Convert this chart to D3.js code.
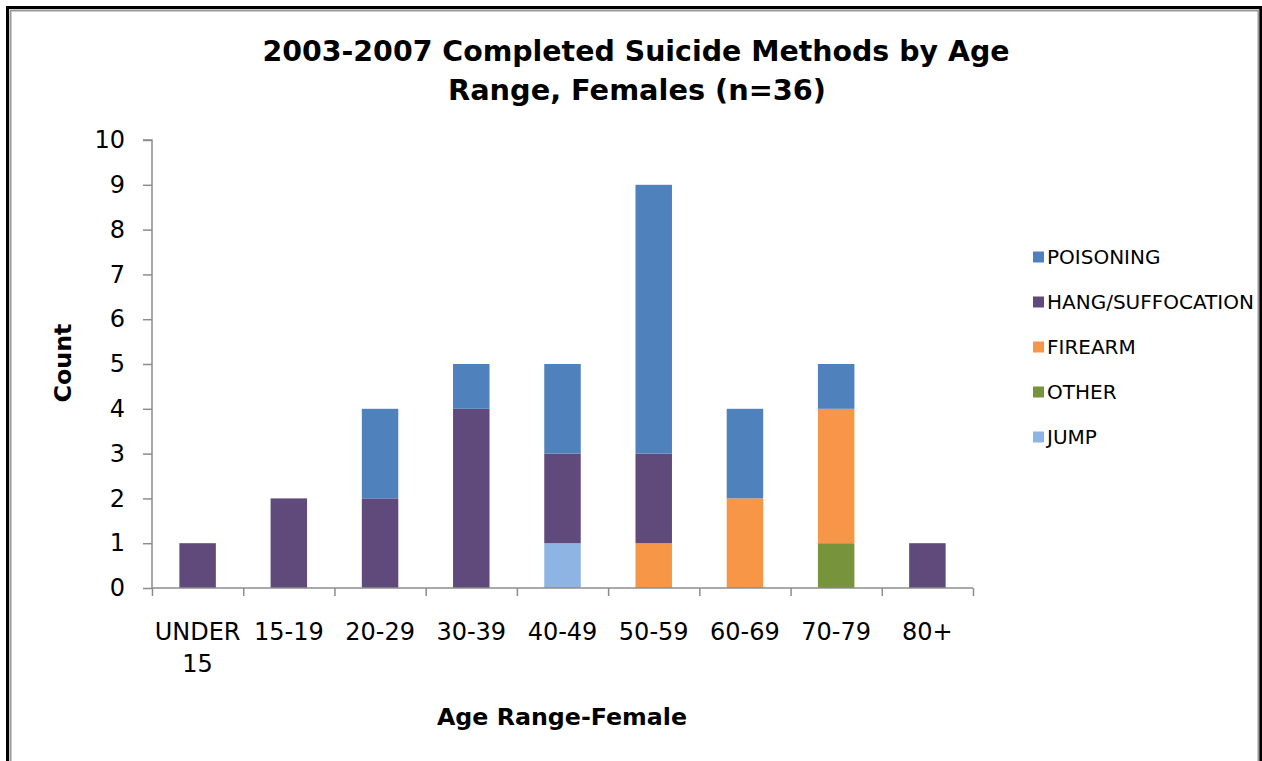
<!DOCTYPE html>
<html>
<head>
<meta charset="utf-8">
<script src="https://cdn.jsdelivr.net/npm/d3@7"></script>
<style>
  body { margin: 0; background: #fff; }
  text { font-family: "DejaVu Sans", Verdana, sans-serif; fill: #000; }
</style>
</head>
<body>
<div id="chart"></div>
<script>
// age ranges and counts per method
const categories = ["UNDER 15", "15-19", "20-29", "30-39", "40-49", "50-59", "60-69", "70-79", "80+"]
const poisoning = [0, 0, 2, 1, 2, 6, 2, 1, 0]
const hang = [1, 2, 2, 4, 2, 2, 0, 0, 1]
const firearm = [0, 0, 0, 0, 0, 1, 2, 3, 0]
const other = [0, 0, 0, 0, 0, 0, 0, 1, 0]
const jump = [0, 0, 0, 0, 1, 0, 0, 0, 0]
const yTicks = [0, 1, 2, 3, 4, 5, 6, 7, 8, 9, 10]

// legend order (top to bottom)
const series = [
    { key: "POISONING", values: poisoning, color: "#4F81BD" },
    { key: "HANG/SUFFOCATION", values: hang, color: "#604A7B" },
    { key: "FIREARM", values: firearm, color: "#F79646" },
    { key: "OTHER", values: other, color: "#77933C" },
    { key: "JUMP", values: jump, color: "#8EB4E3" }
]

const W = 1262, H = 761
const margin = { top: 140, left: 152, right: 289, bottom: 173 }
const width = W - margin.left - margin.right
const height = H - margin.top - margin.bottom

const svg = d3.select("#chart").append("svg")
    .attr("width", W)
    .attr("height", H)

// frame
svg.append("rect")
    .attr("x", 7.5).attr("y", 7.5)
    .attr("width", 1253).attr("height", 800)
    .attr("fill", "none").attr("stroke", "#000").attr("stroke-width", 3)
svg.append("rect")
    .attr("x", 10.5).attr("y", 10.5)
    .attr("width", 1248).attr("height", 800)
    .attr("fill", "none").attr("stroke", "#9a9a9a").attr("stroke-width", 2)

// title
const title = svg.append("g").style("font-weight", "bold").style("font-size", "29px")
title.append("text").attr("x", 636).attr("y", 61).attr("text-anchor", "middle")
    .attr("textLength", 747).attr("lengthAdjust", "spacingAndGlyphs")
    .text("2003-2007 Completed Suicide Methods by Age")
title.append("text").attr("x", 637).attr("y", 100).attr("text-anchor", "middle")
    .attr("textLength", 378).attr("lengthAdjust", "spacingAndGlyphs")
    .text("Range, Females (n=36)")

const g = svg.append("g").attr("transform", `translate(${margin.left},${margin.top})`)

const x = d3.scaleBand().domain(categories).range([0, width])
const xEdge = d3.scaleLinear().domain([0, categories.length]).range([0, width])
const y = d3.scaleLinear().domain([0, 10]).range([height, 0])

// stacked data, bottom to top: jump, other, firearm, hang, poisoning
const rows = categories.map((c, i) => {
    const r = { cat: c }
    series.forEach(s => { r[s.key] = s.values[i] })
    return r
})
const stackKeys = series.map(s => s.key).reverse()
const stacked = d3.stack().keys(stackKeys)(rows)
const colorOf = {}
series.forEach(s => { colorOf[s.key] = s.color })

const barW = x.bandwidth() * 0.4
g.append("g")
    .selectAll("g")
    .data(stacked)
    .enter().append("g")
    .attr("fill", d => colorOf[d.key])
    .selectAll("rect")
    .data(d => d)
    .enter().append("rect")
    .attr("x", d => x(d.data.cat) + (x.bandwidth() - barW) / 2)
    .attr("y", d => y(d[1]))
    .attr("width", barW)
    .attr("height", d => y(d[0]) - y(d[1]))

// axes
const yAxis = g.append("g")
    .call(d3.axisLeft(y).tickValues(yTicks).tickSize(9).tickPadding(18).tickFormat(d3.format("d")))
yAxis.selectAll("path, line").attr("stroke", "#8c8c8c").attr("stroke-width", 1.5)
yAxis.select(".domain").attr("d", `M-9,${y(10)}H0V${y(0)}`)
yAxis.selectAll("text").style("font-size", "24px").attr("fill", "#000")
    .style("font-family", "'DejaVu Sans', Verdana, sans-serif")

const xAxis = g.append("g")
    .attr("transform", `translate(0,${height})`)
    .call(d3.axisBottom(xEdge).ticks(categories.length).tickSize(8).tickFormat(""))
xAxis.selectAll("path, line").attr("stroke", "#8c8c8c").attr("stroke-width", 1.5)
xAxis.select(".domain").attr("d", `M0,0H${width}`)

// category labels, wrapped like the original
const catLabels = g.append("g")
    .selectAll("text")
    .data(categories)
    .enter().append("text")
    .attr("text-anchor", "middle")
    .style("font-size", "24px")
    .attr("transform", d => `translate(${x(d) + x.bandwidth() / 2},${height + 52})`)
catLabels.each(function (d) {
    const parts = d === "UNDER 15" ? ["UNDER", "15"] : [d]
    d3.select(this).selectAll("tspan")
        .data(parts)
        .enter().append("tspan")
        .attr("x", 0)
        .attr("dy", (p, i) => i === 0 ? 0 : 32)
        .text(p => p)
})

// axis titles
svg.append("text")
    .attr("transform", "translate(71,363) rotate(-90)")
    .attr("text-anchor", "middle")
    .style("font-weight", "bold").style("font-size", "23px")
    .attr("textLength", 79).attr("lengthAdjust", "spacingAndGlyphs")
    .text("Count")
svg.append("text")
    .attr("x", 562).attr("y", 725)
    .attr("text-anchor", "middle")
    .style("font-weight", "bold").style("font-size", "23px")
    .attr("textLength", 250).attr("lengthAdjust", "spacingAndGlyphs")
    .text("Age Range-Female")

// legend
const legend = svg.append("g")
    .selectAll("g")
    .data(series)
    .enter().append("g")
    .attr("transform", (d, i) => `translate(1033,${257 + i * 45})`)
legend.append("rect")
    .attr("x", 0).attr("y", -5.5)
    .attr("width", 11).attr("height", 11)
    .attr("fill", d => d.color)
legend.append("text")
    .attr("x", 14).attr("dy", "0.36em")
    .style("font-size", "20px")
    .text(d => d.key)
</script>
</body>
</html>
